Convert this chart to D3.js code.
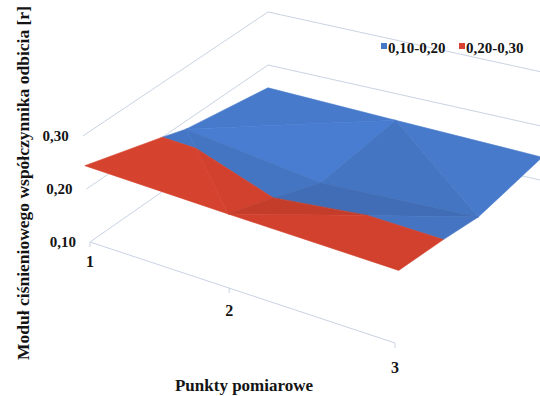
<!DOCTYPE html>
<html>
<head>
<meta charset="utf-8">
<script src="https://cdn.jsdelivr.net/npm/d3@7"></script>
<style>
  body { margin: 0; background: #fff; }
  svg { display: block; }
  text { font-family: "Liberation Serif", "Times New Roman", serif; font-weight: bold; fill: #141414; }
</style>
</head>
<body>
<svg id="chart" width="540" height="396"></svg>
<script>
// Measurement points along the category axis
const points = ["1", "2", "3"];
// Depth series, front to back
const series = ["S1", "S2", "S3"];
// Pressure reflection coefficient modulus, one row per depth series
const valuesS1 = [0.244, 0.240, 0.237];
const valuesS2 = [0.185, 0.152, 0.167];
const valuesS3 = [0.157, 0.150, 0.143];
const valueTicks = [0.10, 0.20, 0.30];
// Colour bands of the surface
const bandLimits = [0.10, 0.20, 0.30];
const bandLabels = ["0,10-0,20", "0,20-0,30"];

const grid = [valuesS1, valuesS2, valuesS3];
const bandColors = ["#4678c8", "#d8432f"];
const gridColor = "#c9d3e2";

const svg = d3.select("#chart");
const fmt = d3.formatLocale({ decimal: ",", thousands: " ", grouping: [3], currency: ["", " zł"] }).format(".2f");

// Scales: category / series to floor parameters, value to height above the floor
const uScale = d3.scalePoint().domain(points).range([0, 1]);
const wScale = d3.scalePoint().domain(series).range([0, 1]);
const hScale = d3.scaleLinear().domain([0.10, 0.30]).range([0, 106]);

// Floor plane: perspective mapping of the unit square to its screen quad
function makeHomography(p0, p1, p2, p3) {
  const [x0, y0] = p0, [x1, y1] = p1, [x2, y2] = p2, [x3, y3] = p3;
  const dx1 = x1 - x2, dx2 = x3 - x2, dx3 = x0 - x1 + x2 - x3;
  const dy1 = y1 - y2, dy2 = y3 - y2, dy3 = y0 - y1 + y2 - y3;
  const den = dx1 * dy2 - dx2 * dy1;
  const g = (dx3 * dy2 - dx2 * dy3) / den, h = (dx1 * dy3 - dx3 * dy1) / den;
  const a = x1 - x0 + g * x1, b = x3 - x0 + h * x3, c = x0;
  const d = y1 - y0 + g * y1, e = y3 - y0 + h * y3, f = y0;
  return (u, w) => {
    const q = g * u + h * w + 1;
    return [(a * u + b * w + c) / q, (d * u + e * w + f) / q];
  };
}
const floorAt = makeHomography([90, 242], [395, 343], [540, 180], [268, 118]);
const verticalVanish = [268, 2860];

function project(u, w, v) {
  const [fx, fy] = floorAt(u, w);
  const h = hScale(v);
  return [fx + (fx - verticalVanish[0]) * h / (verticalVanish[1] - fy), fy - h];
}

const line = d3.line();
function sampledLine(f) {
  return line(d3.range(0, 1.0001, 0.05).map(f));
}

// Walls: side wall and back wall gridlines
const walls = svg.append("g").attr("fill", "none").attr("stroke", gridColor).attr("stroke-width", 1);
valueTicks.forEach(v => {
  walls.append("path").attr("d", sampledLine(t => project(0, t, v)));
  walls.append("path").attr("d", sampledLine(t => project(t, 1, v)));
});
// Category axis along the front edge
walls.append("path").attr("d", sampledLine(t => project(t, 0, valueTicks[0])));
points.forEach(p => {
  const [x, y] = project(uScale(p), 0, valueTicks[0]);
  walls.append("line").attr("x1", x).attr("y1", y).attr("x2", x).attr("y2", y + 5);
});

// Surface mesh: each cell is split along its higher diagonal
const verts = grid.map((row, r) => row.map((v, c) => ({ u: uScale(points[c]), w: wScale(series[r]), v })));
const tris = [];
for (let r = 0; r < series.length - 1; r++) {
  for (let c = 0; c < points.length - 1; c++) {
    const a = verts[r][c], b = verts[r][c + 1], cc = verts[r + 1][c + 1], d = verts[r + 1][c];
    if (b.v + d.v >= a.v + cc.v) tris.push([a, b, d], [b, cc, d]);
    else tris.push([a, b, cc], [a, cc, d]);
  }
}

function splitTri(tri, t) {
  const below = [], above = [];
  for (let i = 0; i < 3; i++) {
    const p = tri[i], q = tri[(i + 1) % 3];
    (p.v < t ? below : above).push(p);
    if ((p.v < t) !== (q.v < t)) {
      const s = (t - p.v) / (q.v - p.v);
      const m = { u: p.u + s * (q.u - p.u), w: p.w + s * (q.w - p.w), v: t };
      below.push(m); above.push(m);
    }
  }
  return [below, above];
}

const light = (() => { const l = [0.35, 1, 0.1]; const n = Math.hypot(...l); return l.map(x => x / n); })();
function shade(tri) {
  const P = tri.map(p => [p.u * 300, hScale(p.v), p.w * 200]);
  const e1 = [P[1][0] - P[0][0], P[1][1] - P[0][1], P[1][2] - P[0][2]];
  const e2 = [P[2][0] - P[0][0], P[2][1] - P[0][1], P[2][2] - P[0][2]];
  let n = [e1[1] * e2[2] - e1[2] * e2[1], e1[2] * e2[0] - e1[0] * e2[2], e1[0] * e2[1] - e1[1] * e2[0]];
  if (n[1] < 0) n = n.map(x => -x);
  const len = Math.hypot(...n);
  const dot = (n[0] * light[0] + n[1] * light[1] + n[2] * light[2]) / len;
  return 1 + (dot - 0.94) * 1.4;
}

function tint(color, k) {
  const c = d3.rgb(color);
  return d3.rgb(Math.min(255, c.r * k), Math.min(255, c.g * k), Math.min(255, c.b * k)).formatHex();
}

const order = tris.map(t => ({ t, key: floorAt(d3.mean(t, p => p.u), d3.mean(t, p => p.w))[1] }))
  .sort((a, b) => a.key - b.key);

const surface = svg.append("g").attr("stroke-linejoin", "round");
order.forEach(({ t }) => {
  const k = shade(t);
  splitTri(t, bandLimits[1]).forEach((poly, i) => {
    if (poly.length < 3) return;
    const col = tint(bandColors[i], k);
    surface.append("path")
      .attr("d", line(poly.map(p => project(p.u, p.w, p.v))) + "Z")
      .attr("fill", col).attr("stroke", col).attr("stroke-width", 0.6);
  });
});

// Value axis labels
valueTicks.forEach(v => {
  const [x, y] = project(0, 0, v);
  svg.append("text").attr("x", x - 14).attr("y", y + 5)
    .attr("text-anchor", "end").attr("font-size", 15).text(fmt(v));
});

// Category labels
points.forEach(p => {
  const u = uScale(p);
  const [x, y] = project(u, 0, valueTicks[0]);
  svg.append("text").attr("x", x).attr("y", y + 25 + 5 * u)
    .attr("text-anchor", "middle").attr("font-size", 16).text(p);
});

// Axis titles
svg.append("text").attr("x", 244).attr("y", 391).attr("text-anchor", "middle")
  .attr("font-size", 17).text("Punkty pomiarowe");
svg.append("text").attr("transform", "translate(29,183) rotate(-90)").attr("text-anchor", "middle")
  .attr("font-size", 17.5).text("Moduł ciśnieniowego współczynnika odbicia [r]");

// Legend
const legend = svg.append("g");
const legendX = [381, 459];
bandLabels.forEach((lab, i) => {
  legend.append("rect").attr("x", legendX[i]).attr("y", 43).attr("width", 6).attr("height", 6).attr("fill", bandColors[i]);
  legend.append("text").attr("x", legendX[i] + 7).attr("y", 53).attr("font-size", 15).text(lab);
});
</script>
</body>
</html>
